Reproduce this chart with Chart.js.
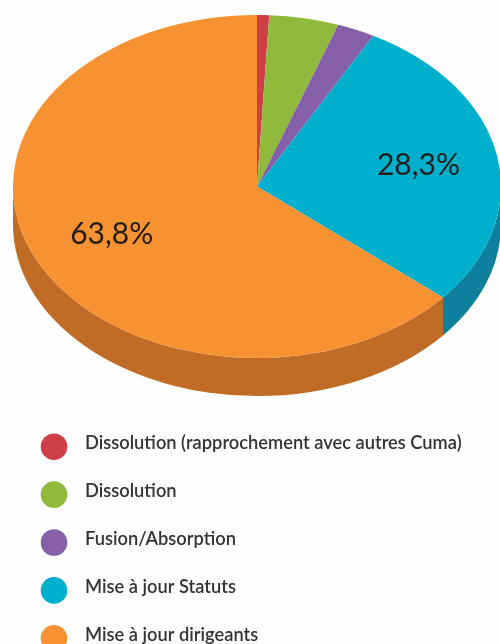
<!DOCTYPE html>
<html lang="fr">
<head>
<meta charset="utf-8">
<style>
html,body{margin:0;padding:0;background:#fefefe;}
canvas{display:block;filter:blur(0.5px);}
</style>
<script src="https://cdn.jsdelivr.net/npm/chart.js@4"></script>
</head>
<body>
<canvas id="c" width="500" height="644"></canvas>
<script>
const categories = ["Dissolution (rapprochement avec autres Cuma)", "Dissolution", "Fusion/Absorption", "Mise à jour Statuts", "Mise à jour dirigeants"];
const shares = [0.8, 4.6, 2.5, 28.3, 63.8];
const faceColors = ["#cf4046", "#8fba3c", "#8560a8", "#00afcc", "#f79232"];
const wallColors = ["#a03035", "#6f9230", "#664a82", "#0f7f9e", "#c06c26"];

const centerX = 257, centerY = 186.5, squash = 0.703, depth = 38;
const labelFont = '30px Lato, "Open Sans", sans-serif';
const legendFont = '600 18.3px Lato, "Open Sans", sans-serif';

const tiltedPie = {
  id: 'tiltedPie',
  beforeDatasetsDraw(chart) {
    const ctx = chart.ctx, arcs = chart.getDatasetMeta(0).data;
    ctx.save();
    arcs.forEach((arc, i) => {
      const a0 = Math.max(arc.startAngle, 0), a1 = Math.min(arc.endAngle, Math.PI);
      if (a1 <= a0) return;
      const rx = arc.outerRadius, ry = rx * squash;
      ctx.beginPath();
      ctx.ellipse(centerX, centerY, rx, ry, 0, a0, a1);
      ctx.ellipse(centerX, centerY + depth, rx, ry, 0, a1, a0, true);
      ctx.closePath();
      ctx.fillStyle = wallColors[i];
      ctx.fill();
    });
    ctx.restore();
    const a = arcs[0];
    ctx.save();
    ctx.translate(centerX, centerY);
    ctx.scale(1, squash);
    ctx.translate(-a.x, -a.y);
  },
  afterDatasetsDraw(chart) {
    chart.ctx.restore();
  },
  afterDraw(chart) {
    const ctx = chart.ctx, arcs = chart.getDatasetMeta(0).data;
    ctx.save();
    // value labels on the large slices
    ctx.font = labelFont;
    ctx.fillStyle = '#231c1a';
    ctx.textAlign = 'center';
    ctx.textBaseline = 'middle';
    arcs.forEach((arc, i) => {
      if (shares[i] < 10) return;
      const mid = (arc.startAngle + arc.endAngle) / 2, r = arc.outerRadius * 0.665;
      const x = centerX + 2 + r * Math.cos(mid), y = centerY - 0.5 + r * squash * Math.sin(mid);
      ctx.fillText(shares[i].toFixed(1).replace('.', ',') + '%', x, y);
    });
    // legend
    ctx.textAlign = 'left';
    ctx.font = legendFont;
    categories.forEach((name, i) => {
      const y = 446.7 + i * 47.9;
      ctx.beginPath();
      ctx.arc(54, y, 13.3, 0, Math.PI * 2);
      ctx.fillStyle = faceColors[i];
      ctx.fill();
      ctx.fillStyle = '#333335';
      ctx.fillText(name, 85, y - 3.5);
    });
    ctx.restore();
  }
};

new Chart(document.getElementById('c'), {
  type: 'pie',
  data: {
    labels: categories,
    datasets: [{ data: shares, backgroundColor: faceColors, borderWidth: 0, hoverOffset: 0 }]
  },
  options: {
    responsive: false,
    animation: false,
    events: [],
    layout: { padding: { left: 12, right: 0, top: 0, bottom: 156 } },
    plugins: { legend: { display: false }, tooltip: { enabled: false } }
  },
  plugins: [tiltedPie]
});
</script>
</body>
</html>
